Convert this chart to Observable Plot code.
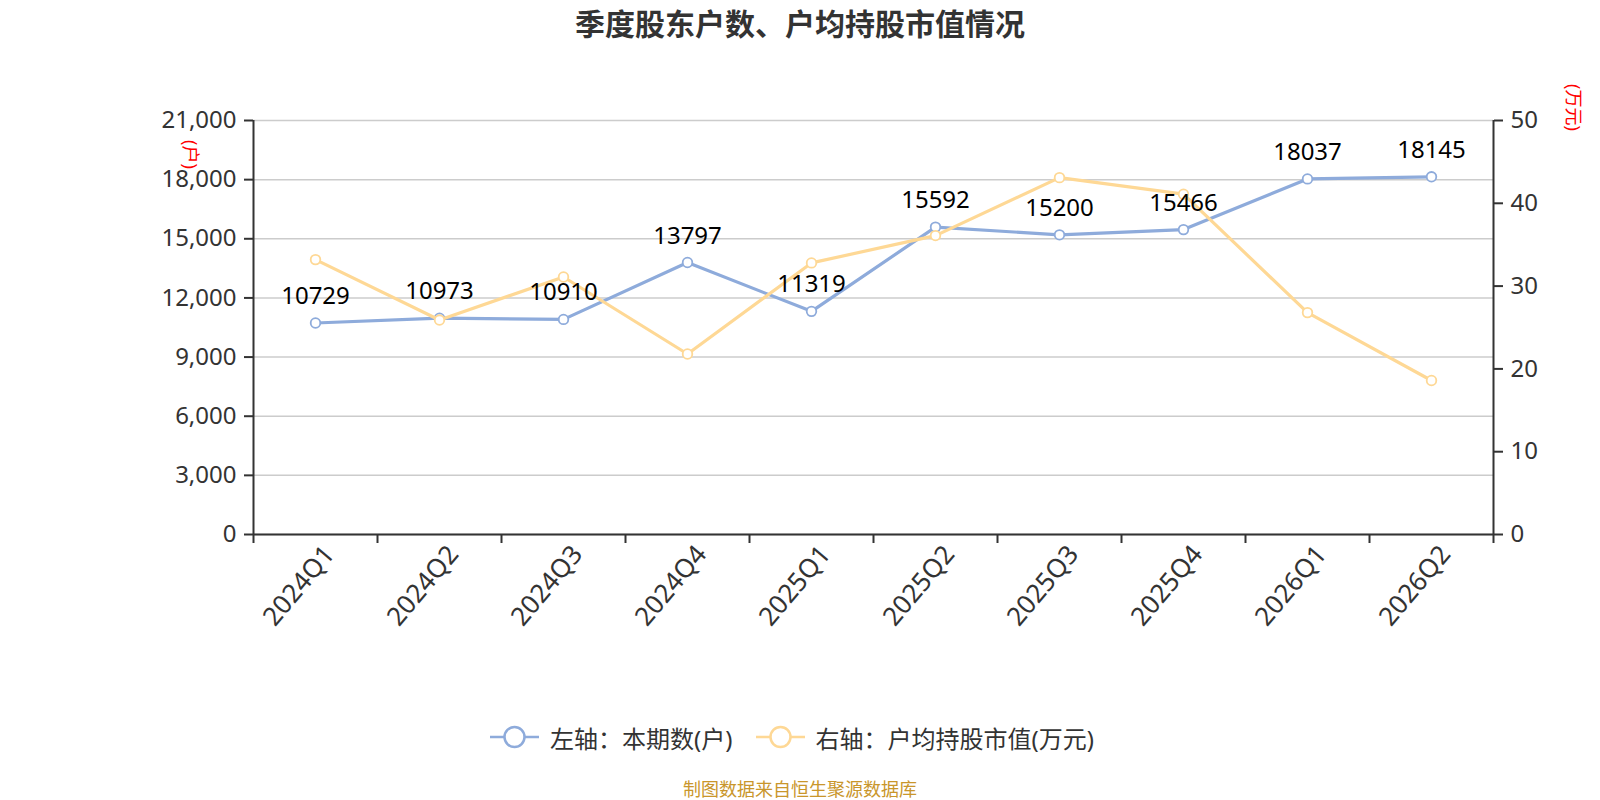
<!DOCTYPE html>
<html>
<head>
<meta charset="utf-8">
<script src="https://cdn.jsdelivr.net/npm/d3@7"></script>
<script src="https://cdn.jsdelivr.net/npm/@observablehq/plot@0.6"></script>
<style>
  html, body { margin: 0; padding: 0; background: #fff; overflow: hidden; }
  #wrap { width: 1600px; height: 800px; font-family: "Noto Sans", "Noto Sans CJK SC", sans-serif; }
  #title { height: 45px; line-height: 44px; text-align: center; font-family: "Noto Sans CJK SC", sans-serif; font-weight: bold; font-size: 30px; color: #333; }
  #chart svg { display: block; }
  #legend { height: 64px; display: flex; align-items: center; justify-content: center; transform: translateX(-8px); }
  .item { display: flex; align-items: center; font-size: 24px; color: #333; font-family: "Noto Sans", "Noto Sans CJK SC", sans-serif; }
  .item svg { display: block; margin-right: 11px; }
  .item + .item { margin-left: 23px; }
  #footer { height: 31px; line-height: 38px; text-align: center; font-size: 18px; color: #c9962b; font-family: "Noto Sans CJK SC", sans-serif; }
</style>
</head>
<body>
<div id="wrap">
  <div id="title"></div>
  <div id="chart"></div>
  <div id="legend"></div>
  <div id="footer"></div>
</div>
<script>
// ---- data ----
const titleText = "季度股东户数、户均持股市值情况";
const footerText = "制图数据来自恒生聚源数据库";
const quarters = ["2024Q1", "2024Q2", "2024Q3", "2024Q4", "2025Q1", "2025Q2", "2025Q3", "2025Q4", "2026Q1", "2026Q2"];
const holders = [10729, 10973, 10910, 13797, 11319, 15592, 15200, 15466, 18037, 18145];
const avgValue = [33.2, 25.9, 31.1, 21.8, 32.8, 36.1, 43.1, 41.1, 26.8, 18.6];
const leftTicks = [0, 3000, 6000, 9000, 12000, 15000, 18000, 21000];
const rightTicks = [0, 10, 20, 30, 40, 50];
const leftUnit = "(户)";
const rightUnit = "(万元)";
const seriesNames = ["左轴：本期数(户)", "右轴：户均持股市值(万元)"];
const colors = ["#8eabdb", "#fed895"];

// ---- derived ----
const leftMax = leftTicks[leftTicks.length - 1];
const rightMax = rightTicks[rightTicks.length - 1];
const k = leftMax / rightMax;
const rows = quarters.map((q, i) => ({i, q, holders: holders[i], avg: avgValue[i]}));
const idx = quarters.map((_, i) => i);
const bounds = d3.range(quarters.length + 1).map(i => i - 0.5);

document.getElementById("title").textContent = titleText;
document.getElementById("footer").textContent = footerText;

const chart = Plot.plot({
  width: 1600,
  height: 660,
  marginTop: 75,
  marginBottom: 171,
  marginLeft: 253,
  marginRight: 107,
  x: {type: "linear", domain: [-0.5, quarters.length - 0.5]},
  y: {domain: [0, leftMax]},
  style: {fontFamily: "'Noto Sans', 'Noto Sans CJK SC', sans-serif", fontSize: "24px", color: "#333", background: "white"},
  marks: [
    Plot.gridY(leftTicks, {stroke: "#ccc", strokeOpacity: 1, strokeWidth: 1.5}),
    Plot.axisY(leftTicks, {anchor: "left", tickSize: 9, tickPadding: 8, tickFormat: d3.format(","), fontSize: 24, color: "#333", strokeWidth: 2, label: null}),
    Plot.axisY(rightTicks.map(v => v * k), {anchor: "right", tickSize: 9, tickPadding: 8, tickFormat: d => String(Math.round(d / k)), fontSize: 24, color: "#333", strokeWidth: 2, label: null}),
    Plot.axisX(bounds, {tickSize: 9, tickFormat: () => "", color: "#333", strokeWidth: 2, label: null}),
    Plot.axisX(idx, {tickSize: 0, tickFormat: i => quarters[i], tickRotate: -50, tickPadding: 15, dx: 14, fontSize: 26, color: "#333", label: null}),
    Plot.ruleX([-0.5, quarters.length - 0.5], {stroke: "#333", strokeWidth: 2}),
    Plot.ruleY([0], {stroke: "#333", strokeWidth: 2}),
    Plot.text([leftUnit], {frameAnchor: "top-left", textAnchor: "middle", lineAnchor: "middle", dx: -64, dy: 34, rotate: 90, fill: "red", fontSize: 18}),
    Plot.text([rightUnit], {frameAnchor: "top-right", textAnchor: "middle", lineAnchor: "middle", dx: 79, dy: -13, rotate: 90, fill: "red", fontSize: 18}),
    Plot.line(rows, {x: "i", y: "holders", stroke: colors[0], strokeWidth: 3.2}),
    Plot.dot(rows, {x: "i", y: "holders", r: 4.8, fill: "white", stroke: colors[0], strokeWidth: 1.8}),
    Plot.line(rows, {x: "i", y: d => d.avg * k, stroke: colors[1], strokeWidth: 3.2}),
    Plot.dot(rows, {x: "i", y: d => d.avg * k, r: 4.8, fill: "white", stroke: colors[1], strokeWidth: 1.8}),
    Plot.text(rows, {x: "i", y: "holders", text: d => String(d.holders), dy: -19, lineAnchor: "bottom", fontSize: 24, fill: "#000"})
  ]
});
document.getElementById("chart").appendChild(chart);

// ---- legend ----
const legend = document.getElementById("legend");
seriesNames.forEach((name, j) => {
  const item = document.createElement("div");
  item.className = "item";
  item.innerHTML = `<svg width="49" height="26"><line x1="0" x2="49" y1="13" y2="13" stroke="${colors[j]}" stroke-width="2.5"/><circle cx="24.5" cy="13" r="10" fill="white" stroke="${colors[j]}" stroke-width="2.5"/></svg><span></span>`;
  item.querySelector("span").textContent = name;
  legend.appendChild(item);
});
</script>
</body>
</html>
